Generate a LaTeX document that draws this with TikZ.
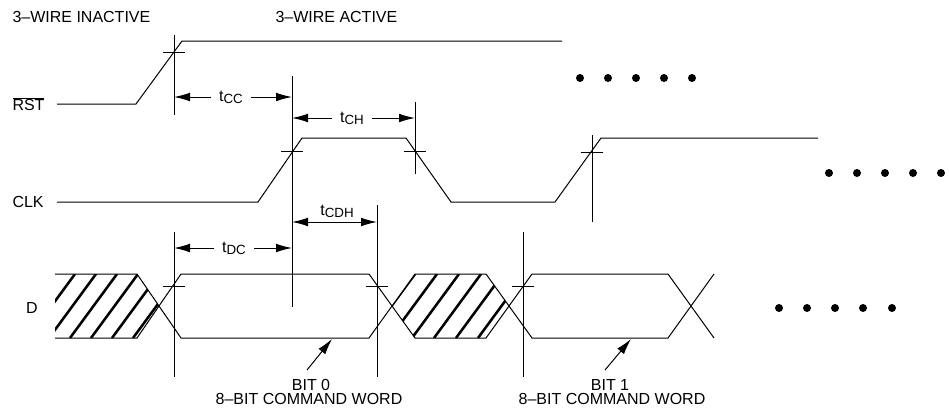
\documentclass[tikz,border=0pt]{standalone}
\usepackage{fontspec}
\setmainfont{Liberation Sans}
\usetikzlibrary{arrows.meta}

\newcommand{\tsub}[1]{t\raisebox{-0.12em}{\fontsize{10}{11}\selectfont #1}}
\newcommand{\xtick}[1]{\draw (#1) ++(-11,0) -- ++(22,0);}

\begin{document}
\begin{tikzpicture}[x=0.75pt,y=-0.75pt,line width=0.75pt,
  lbl/.style={font=\fontsize{12}{14}\selectfont,inner sep=0pt},
  gap/.style={lbl,fill=white,inner xsep=6pt,inner ysep=1pt},
  dim/.style={{Latex[length=12pt,width=6.5pt]}-{Latex[length=12pt,width=6.5pt]}},
  ptr/.style={-{Latex[length=12pt,width=6.5pt]}},
  hatch/.style={line width=1.9pt}]
  \useasboundingbox (0,0) rectangle (949,412);

  % titles and signal names
  \node[lbl,anchor=west] (inact) at (12,17) {3–WIRE INACTIVE};
  \node[lbl,anchor=west] (act) at (275,17) {3–WIRE ACTIVE};
  \node[lbl,anchor=west] (rst) at (12,104) {$\overline{\mbox{RST}}$};
  \node[lbl,anchor=west] (clk) at (12,202) {CLK};
  \node[lbl] (dat) at (32,308) {D};

  % RST
  \coordinate (r0) at (57,104);
  \coordinate (r1) at (136,104);
  \coordinate (r2) at (182,41);
  \coordinate (r3) at (562,41);
  \draw (r0) -- (r1) -- (r2) -- (r3);

  % CLK
  \coordinate (c0) at (57,202);
  \coordinate (c1) at (258,202);
  \coordinate (c2) at (302,138);
  \coordinate (c3) at (406,138);
  \coordinate (c4) at (451,202);
  \coordinate (c5) at (555,202);
  \coordinate (c6) at (601,138);
  \coordinate (c7) at (818,138);
  \draw (c0) -- (c1) -- (c2) -- (c3) -- (c4) -- (c5) -- (c6) -- (c7);

  % D
  \draw (55,274) -- (137,274) -- (181,338) -- (369,338) -- (415,274)
    -- (486,274) -- (532,338) -- (668,338) -- (714,274);
  \draw (55,338) -- (137,338) -- (181,274) -- (369,274) -- (415,338)
    -- (486,338) -- (532,274) -- (668,274) -- (714,338);

  \begin{scope}
    \clip (55,274) -- (137,274) -- (159,306) -- (137,338) -- (55,338) -- cycle;
    \foreach \k in {0,...,8}
      \draw[hatch] ({7+21*\k},338) -- ++(47,-64);
  \end{scope}
  \begin{scope}
    \clip (392,306) -- (415,274) -- (486,274) -- (509,306) -- (486,338) -- (415,338) -- cycle;
    \foreach \k in {0,...,7}
      \draw[hatch] ({346+22*\k},338) -- ++(47,-64);
  \end{scope}

  % crossing marks
  \coordinate (xr) at (174,52);
  \coordinate (xc1) at (292,151);
  \coordinate (xc2) at (415,151);
  \coordinate (xc3) at (592,152);
  \coordinate (xd1) at (174,286);
  \coordinate (xd2) at (377,286);
  \coordinate (xd3) at (523,286);
  \xtick{xr} \xtick{xc1} \xtick{xc2} \xtick{xc3}
  \xtick{xd1} \xtick{xd2} \xtick{xd3}

  \draw (174,35) -- (174,115);
  \draw (292,76) -- (292,307);
  \draw (415,102) -- (415,174);
  \draw (592,135) -- (592,222);
  \draw (377,205) -- (377,377);
  \draw (523,232) -- (523,377);
  \draw (174,232) -- (174,377);

  % timing
  \coordinate (cc1) at (174,97);
  \coordinate (cc2) at (292,97);
  \coordinate (ch1) at (292,118);
  \coordinate (ch2) at (415,118);
  \coordinate (cdh1) at (292,222);
  \coordinate (cdh2) at (377,222);
  \coordinate (dc1) at (174,248);
  \coordinate (dc2) at (292,248);
  \draw[dim] (cc1) -- (cc2);
  \draw[dim] (ch1) -- (ch2);
  \draw[dim] (cdh1) -- (cdh2);
  \draw[dim] (dc1) -- (dc2);
  \node[gap] (tcc) at (231,97) {\tsub{CC}};
  \node[gap] (tch) at (352,118) {\tsub{CH}};
  \node[lbl] (tcdh) at (337,211) {\tsub{CDH}};
  \node[gap] (tdc) at (234,248) {\tsub{DC}};

  % bit labels
  \node[lbl] (bit0) at (311,385) {BIT 0};
  \node[lbl] (word0) at (309,399) {8–BIT COMMAND WORD};
  \node[lbl] (bit1) at (610,385) {BIT 1};
  \node[lbl] (word1) at (612,399) {8–BIT COMMAND WORD};
  \coordinate (b0t) at (307,370);
  \coordinate (b0h) at (332,339);
  \coordinate (b1t) at (605,370);
  \coordinate (b1h) at (631,339);
  \draw[ptr] (b0t) -- (b0h);
  \draw[ptr] (b1t) -- (b1h);

  % continuation dots
  \foreach \x in {580,608,636,664,692}
    \fill (\x,78) circle (3pt);
  \foreach \x in {829,857,885,913,941}
    \fill (\x,173) circle (3pt);
  \foreach \x in {779,807,835,863,892}
    \fill (\x,308) circle (3pt);
\end{tikzpicture}
\end{document}
